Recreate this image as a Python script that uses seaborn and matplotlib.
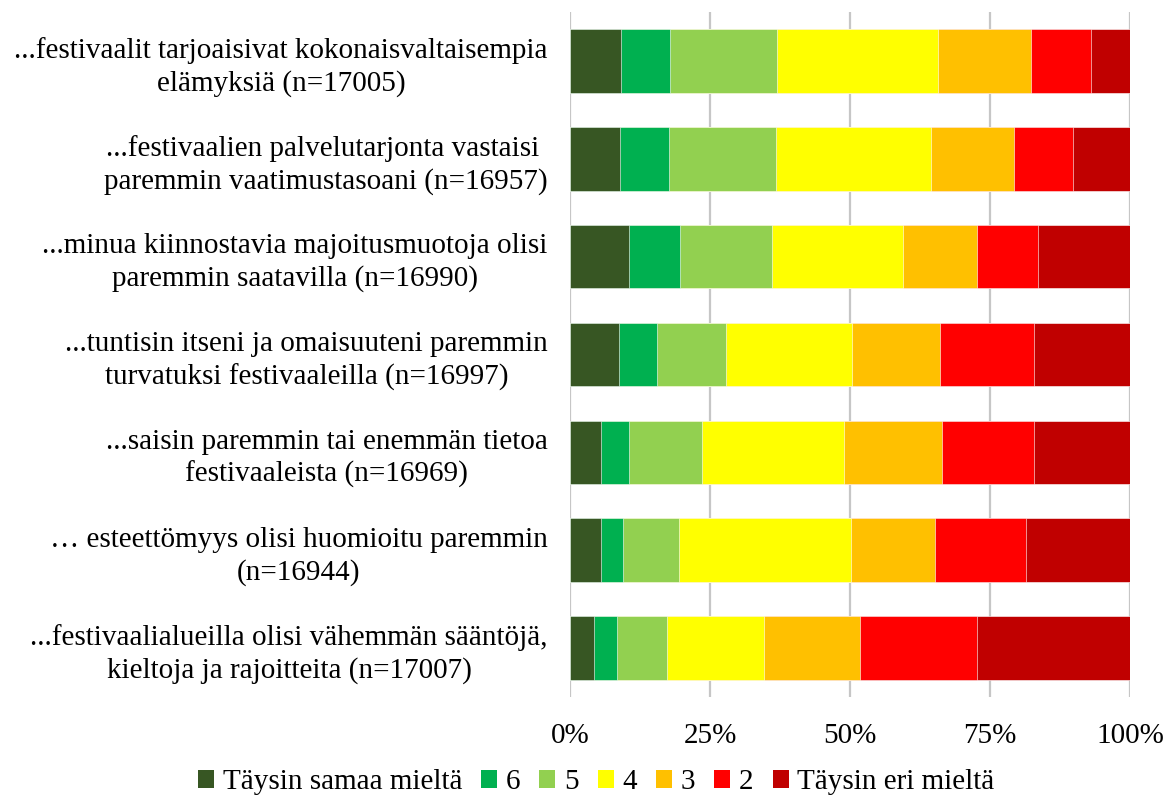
import numpy as np
import pandas as pd
import matplotlib
matplotlib.use("Agg")
import matplotlib.pyplot as plt
import matplotlib.patches as patches
import seaborn as sns

# statements (top to bottom)
labels = [
    "...festivaalit tarjoaisivat kokonaisvaltaisempia\nelämyksiä (n=17005)",
    "...festivaalien palvelutarjonta vastaisi \nparemmin vaatimustasoani (n=16957)",
    "...minua kiinnostavia majoitusmuotoja olisi\nparemmin saatavilla (n=16990)",
    "...tuntisin itseni ja omaisuuteni paremmin\nturvatuksi festivaaleilla (n=16997)",
    "...saisin paremmin tai enemmän tietoa\nfestivaaleista (n=16969)",
    "… esteettömyys olisi huomioitu paremmin\n(n=16944)",
    "...festivaalialueilla olisi vähemmän sääntöjä,\nkieltoja ja rajoitteita (n=17007)",
]

answers = ["Täysin samaa mieltä", "6", "5", "4", "3", "2", "Täysin eri mieltä"]

# shares in percent, one list per answer option
taysin_samaa = [9.1, 8.9, 10.5, 8.8, 5.6, 5.6, 4.2]
vast_6 = [8.8, 8.8, 9.1, 6.7, 4.9, 3.9, 4.2]
vast_5 = [19.1, 19.1, 16.4, 12.3, 13.0, 10.0, 9.0]
vast_4 = [28.8, 27.6, 23.4, 22.6, 25.5, 30.7, 17.2]
vast_3 = [16.6, 14.9, 13.2, 15.6, 17.4, 14.9, 17.2]
vast_2 = [10.6, 10.6, 10.9, 16.8, 16.5, 16.3, 20.8]
taysin_eri = [7.0, 10.1, 16.5, 17.2, 17.1, 18.6, 27.4]

colors = ["#375623", "#00B050", "#92D050", "#FFFF00", "#FFC000", "#FF0000", "#C00000"]

sns.set_theme(style="white")
plt.rcParams['font.family'] = ['Liberation Serif', 'DejaVu Serif']
plt.rcParams['text.color'] = 'black'
plt.rcParams['xtick.color'] = 'black'
plt.rcParams['ytick.color'] = 'black'

df = pd.DataFrame(
    {answers[0]: taysin_samaa, answers[1]: vast_6, answers[2]: vast_5,
     answers[3]: vast_4, answers[4]: vast_3, answers[5]: vast_2,
     answers[6]: taysin_eri},
    index=labels,
)
cum = df.cumsum(axis=1)

fig = plt.figure(figsize=(11.67, 7.98), dpi=100)
ax = fig.add_axes([570 / 1167, 1 - 697 / 798, 560 / 1167, 685 / 798])

# draw longest cumulative bar first so the shorter ones sit on top
for k in range(len(answers) - 1, -1, -1):
    sns.barplot(x=cum.iloc[:, k].values, y=labels, orient="h",
                color=colors[k], saturation=1, width=0.65,
                edgecolor="white", linewidth=0.4, ax=ax, zorder=3)

ax.set_xlim(0, 100)
ax.set_ylim(6.5, -0.5)
ax.set_xticks([0, 25, 50, 75, 100])
ax.set_xticklabels(["0%", "25%", "50%", "75%", "100%"])
ax.xaxis.grid(True, color="#c6c6c6", linewidth=1.6, zorder=0)
ax.yaxis.grid(False)
ax.set_axisbelow(True)
for s in ax.spines.values():
    s.set_visible(False)
ax.tick_params(axis="x", length=0, pad=19, labelsize=21)
ax.tick_params(axis="y", length=0, pad=16, labelsize=21)
for t in ax.get_yticklabels():
    t.set_multialignment("center")
    t.set_linespacing(1.3)
ax.set_xlabel("")
ax.set_ylabel("")

handles = [patches.Patch(facecolor=c, edgecolor="none") for c in colors]
fig.legend(handles, answers, loc="center", bbox_to_anchor=(0.511, 0.02),
           ncol=7, frameon=False, fontsize=21, handlelength=0.55,
           handleheight=0.55, handletextpad=0.3, columnspacing=0.65)

fig.savefig("out.png", dpi=100)
